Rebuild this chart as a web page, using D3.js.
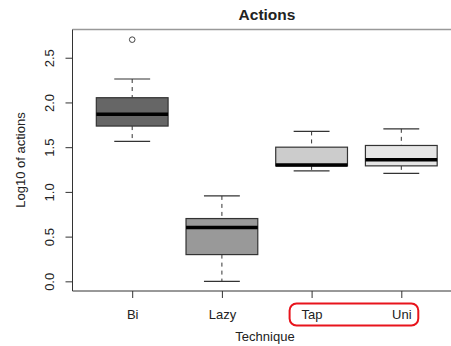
<!DOCTYPE html>
<html>
<head>
<meta charset="utf-8">
<script src="https://cdn.jsdelivr.net/npm/d3@7"></script>
<style>
  body { margin: 0; background: #fff; }
  text { font-family: "Liberation Sans", Arial, sans-serif; fill: #222; }
</style>
</head>
<body>
<div id="chart"></div>
<script>
const techniques = ["Bi", "Lazy", "Tap", "Uni"];
const lowerWhisker = [1.564, 0.0, 1.235, 1.206];
const lowerQuartile = [1.736, 0.299, 1.291, 1.291];
const medians = [1.867, 0.601, 1.302, 1.358];
const upperQuartile = [2.053, 0.702, 1.500, 1.519];
const upperWhisker = [2.262, 0.955, 1.676, 1.705];
const outliers = [{ technique: "Bi", value: 2.702 }];
const boxFills = ["#666666", "#999999", "#cccccc", "#e6e6e6"];
const yTicks = [0, 0.5, 1.0, 1.5, 2.0, 2.5];

const width = 451, height = 346;
const svg = d3.select("#chart").append("svg")
  .attr("width", width)
  .attr("height", height);

// R style: x range 0.5..n+0.5 extended by 4%
const x = d3.scaleLinear().domain([0.34, 4.66]).range([73, 460.5]);
const y = d3.scaleLinear().domain([-0.108, 2.81]).range([291, 30]);
const boxW = (x(1.4) - x(0.6));

const data = techniques.map((t, i) => ({
  name: t, i: i + 1,
  lo: lowerWhisker[i], q1: lowerQuartile[i], med: medians[i],
  q3: upperQuartile[i], hi: upperWhisker[i], fill: boxFills[i]
}));

// frame
svg.append("line").attr("x1", 72.5).attr("x2", width).attr("y1", 29.5).attr("y2", 29.5)
  .attr("stroke", "#999").attr("stroke-width", 1.5);
svg.append("line").attr("x1", 72.5).attr("x2", 72.5).attr("y1", 29.5).attr("y2", 291)
  .attr("stroke", "#333");
svg.append("line").attr("x1", 72.5).attr("x2", width).attr("y1", 291).attr("y2", 291)
  .attr("stroke", "#333");

// y axis
const yAxis = svg.append("g").attr("transform", "translate(72.5,0)")
  .call(d3.axisLeft(y).tickValues(yTicks).tickFormat(d3.format(".1f")).tickSize(7).tickSizeOuter(0));
yAxis.select(".domain").remove();
yAxis.selectAll(".tick line").attr("stroke", "#333");
yAxis.selectAll(".tick text")
  .attr("transform", "rotate(-90)")
  .attr("x", 0).attr("y", -19).attr("dy", 0)
  .attr("text-anchor", "middle")
  .style("font-size", "13px").style("font-family", "Liberation Sans, Arial, sans-serif")
  .attr("fill", "#222");

// x axis
const xAxis = svg.append("g").attr("transform", "translate(0,291)")
  .call(d3.axisBottom(x).tickValues([1, 2, 3, 4]).tickFormat(d => techniques[d - 1]).tickSize(7).tickSizeOuter(0));
xAxis.select(".domain").remove();
xAxis.selectAll(".tick line").attr("stroke", "#333");
xAxis.selectAll(".tick text")
  .attr("y", 27.5).attr("dy", 0)
  .style("font-size", "13px").style("font-family", "Liberation Sans, Arial, sans-serif")
  .attr("fill", "#222");

// boxes
const g = svg.append("g").selectAll("g").data(data).enter().append("g");

g.append("line")
  .attr("x1", d => x(d.i)).attr("x2", d => x(d.i))
  .attr("y1", d => y(d.hi)).attr("y2", d => y(d.q3))
  .attr("stroke", "#333").attr("stroke-dasharray", "4,4");
g.append("line")
  .attr("x1", d => x(d.i)).attr("x2", d => x(d.i))
  .attr("y1", d => y(d.q1)).attr("y2", d => y(d.lo))
  .attr("stroke", "#333").attr("stroke-dasharray", "4,4");
g.append("line")
  .attr("x1", d => x(d.i) - boxW / 4).attr("x2", d => x(d.i) + boxW / 4)
  .attr("y1", d => y(d.hi)).attr("y2", d => y(d.hi))
  .attr("stroke", "#333").attr("stroke-width", 1.2);
g.append("line")
  .attr("x1", d => x(d.i) - boxW / 4).attr("x2", d => x(d.i) + boxW / 4)
  .attr("y1", d => y(d.lo)).attr("y2", d => y(d.lo))
  .attr("stroke", "#333").attr("stroke-width", 1.2);
g.append("rect")
  .attr("x", d => x(d.i) - boxW / 2).attr("width", boxW)
  .attr("y", d => y(d.q3)).attr("height", d => y(d.q1) - y(d.q3))
  .attr("fill", d => d.fill).attr("stroke", "#333").attr("stroke-width", 1.2);
g.append("line")
  .attr("x1", d => x(d.i) - boxW / 2).attr("x2", d => x(d.i) + boxW / 2)
  .attr("y1", d => y(d.med)).attr("y2", d => y(d.med))
  .attr("stroke", "#000").attr("stroke-width", 3.5);

svg.append("g").selectAll("circle").data(outliers).enter().append("circle")
  .attr("cx", d => x(techniques.indexOf(d.technique) + 1))
  .attr("cy", d => y(d.value))
  .attr("r", 2.8)
  .attr("fill", "none").attr("stroke", "#444").attr("stroke-width", 1);

// titles
svg.append("text").attr("x", 267).attr("y", 20).attr("text-anchor", "middle")
  .style("font-size", "15.5px").style("font-weight", "bold").text("Actions");
svg.append("text").attr("x", 265).attr("y", 341).attr("text-anchor", "middle")
  .style("font-size", "13px").text("Technique");
svg.append("text").attr("transform", "translate(24.5,160) rotate(-90)").attr("text-anchor", "middle")
  .style("font-size", "13px").text("Log10 of actions");

// red highlight around Tap / Uni
svg.append("rect")
  .attr("x", x(3) - 22).attr("y", 303.5)
  .attr("width", x(4) - x(3) + 39).attr("height", 22)
  .attr("rx", 7).attr("ry", 7)
  .attr("fill", "none").attr("stroke", "#e8141c").attr("stroke-width", 2);
</script>
</body>
</html>
